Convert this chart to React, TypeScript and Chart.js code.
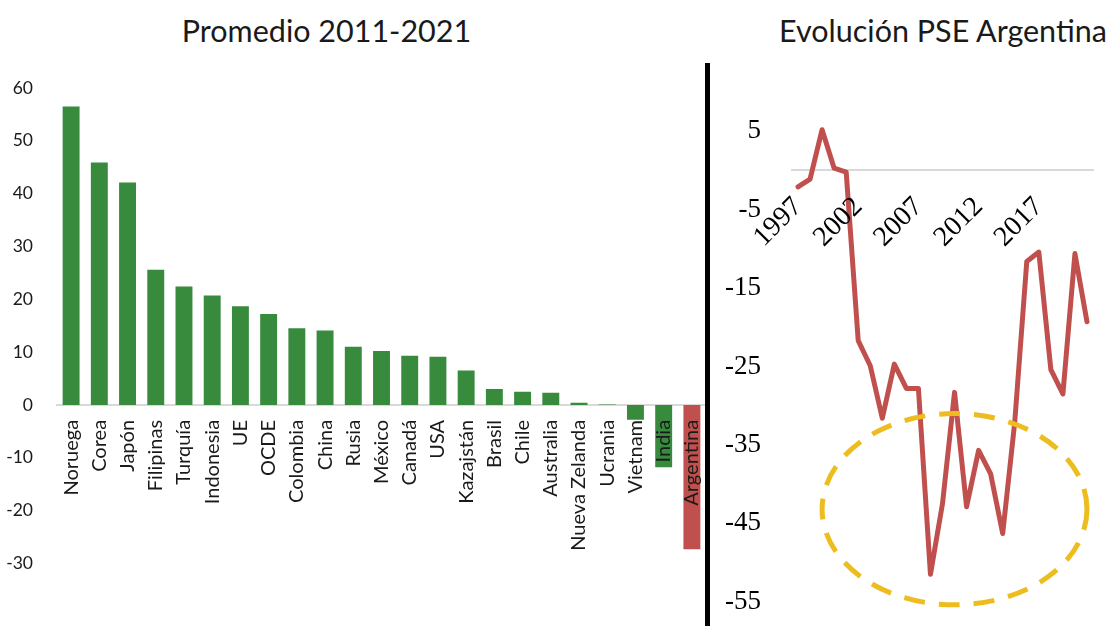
import { useEffect, useRef } from 'react';
import { Chart, registerables } from 'chart.js';

Chart.register(...registerables);

// Left panel: 2011-2021 average PSE by country
const countries = [
  'Noruega', 'Corea', 'Japón', 'Filipinas', 'Turquía', 'Indonesia', 'UE', 'OCDE',
  'Colombia', 'China', 'Rusia', 'México', 'Canadá', 'USA', 'Kazajstán', 'Brasil',
  'Chile', 'Australia', 'Nueva Zelanda', 'Ucrania', 'Vietnam', 'India', 'Argentina',
];
const averageValues = [
  56.5, 45.9, 42.1, 25.6, 22.4, 20.7, 18.7, 17.2,
  14.5, 14.1, 11.0, 10.2, 9.3, 9.1, 6.5, 3.0,
  2.5, 2.3, 0.4, 0.1, -2.8, -11.8, -27.3,
];
const highlightedCountry = 'Argentina';

// Right panel: yearly PSE for Argentina
const years = [
  '1997', '1998', '1999', '2000', '2001', '2002', '2003', '2004', '2005', '2006',
  '2007', '2008', '2009', '2010', '2011', '2012', '2013', '2014', '2015', '2016',
  '2017', '2018', '2019', '2020', '2021',
];
const pseValues = [
  -2.1, -1.1, 5.2, 0.3, -0.2, -21.7, -24.9, -31.6, -24.7, -27.8,
  -27.8, -51.5, -42.5, -28.3, -42.9, -35.7, -38.7, -46.3, -32.1, -11.6,
  -10.4, -25.4, -28.5, -10.6, -19.3,
];
const yearLabelStep = 5;
const pseTicks = [-55, -45, -35, -25, -15, -5, 5];

// Dashed ellipse marking the 2008-2015 trough (in data units)
const troughMark = { fromYear: '1999', toYear: '2021', top: -31, bottom: -55.4 };

const GREEN = '#388B3D';
const RED = '#C0504D';
const GOLD = '#EDBD1F';
const AXIS_GRAY = '#D9D9D9';
const TEXT = '#1a1a1a';
const SANS = 'Lato, "Open Sans", sans-serif';
const SERIF = '"Liberation Serif", "DejaVu Serif", serif';

// The category axes sit on the zero line, so they must not reserve layout room
const flatAxis = (s: any) => {
  s.paddingLeft = 0;
  s.paddingRight = 0;
  s.paddingTop = 0;
  s.paddingBottom = 0;
  s.height = 0;
};

const ellipsePlugin = {
  id: 'troughEllipse',
  afterDatasetsDraw(chart: any) {
    const xs = chart.scales.x;
    const ys = chart.scales.y;
    const x1 = xs.getPixelForValue(years.indexOf(troughMark.fromYear));
    const x2 = xs.getPixelForValue(years.indexOf(troughMark.toYear));
    const y1 = ys.getPixelForValue(troughMark.top);
    const y2 = ys.getPixelForValue(troughMark.bottom);
    const ctx = chart.ctx;
    ctx.save();
    ctx.beginPath();
    ctx.ellipse((x1 + x2) / 2, (y1 + y2) / 2, (x2 - x1) / 2, (y2 - y1) / 2, 0, 0, Math.PI * 2);
    ctx.setLineDash([21, 14]);
    ctx.lineWidth = 5;
    ctx.strokeStyle = GOLD;
    ctx.stroke();
    ctx.restore();
  },
};

function AverageChart() {
  const ref = useRef<HTMLCanvasElement>(null);
  useEffect(() => {
    if (!ref.current) return;
    const chart = new Chart(ref.current, {
      type: 'bar',
      data: {
        labels: countries,
        datasets: [
          {
            data: averageValues,
            backgroundColor: countries.map((c) => (c === highlightedCountry ? RED : GREEN)),
            barPercentage: 0.6,
            categoryPercentage: 1,
          },
        ],
      },
      options: {
        animation: false,
        responsive: false,
        layout: { padding: { top: 88, bottom: 62.6, left: 0, right: 0 } },
        plugins: { legend: { display: false }, tooltip: { enabled: false } },
        scales: {
          x: {
            type: 'category',
            position: { y: 0 } as any,
            grid: { display: false, drawTicks: false },
            border: { display: true, color: AXIS_GRAY, width: 2 },
            ticks: {
              autoSkip: false,
              minRotation: 90,
              maxRotation: 90,
              padding: 15,
              z: 1,
              color: TEXT,
              font: { family: SANS, size: 20 },
            },
            afterFit: flatAxis,
          },
          y: {
            min: -30,
            max: 60,
            grid: { display: false, drawTicks: false },
            border: { display: false },
            ticks: { stepSize: 10, padding: 24, color: TEXT, font: { family: SANS, size: 17.5 } },
            afterFit: (s: any) => {
              s.width = 57;
              s.paddingTop = 0;
              s.paddingBottom = 0;
            },
          },
        },
      },
    } as any);
    return () => chart.destroy();
  }, []);
  return <canvas ref={ref} width={706} height={626} style={{ position: 'absolute', left: 0, top: 0 }} />;
}

function ArgentinaChart() {
  const ref = useRef<HTMLCanvasElement>(null);
  useEffect(() => {
    if (!ref.current) return;
    const chart = new Chart(ref.current, {
      type: 'line',
      data: {
        labels: years,
        datasets: [
          {
            data: pseValues,
            borderColor: RED,
            borderWidth: 5,
            pointRadius: 0,
            tension: 0,
            fill: false,
            borderCapStyle: 'round',
            borderJoinStyle: 'round',
          },
        ],
      },
      options: {
        animation: false,
        responsive: false,
        layout: { padding: { top: 76.4, bottom: 24.3, left: 0, right: 27 } },
        plugins: { legend: { display: false }, tooltip: { enabled: false } },
        scales: {
          x: {
            type: 'category',
            offset: true,
            position: { y: 0 } as any,
            grid: { display: false, drawTicks: false },
            border: { display: true, color: AXIS_GRAY, width: 2 },
            ticks: {
              autoSkip: false,
              minRotation: 45,
              maxRotation: 45,
              padding: 20,
              z: 1,
              color: '#000',
              font: { family: SERIF, size: 28 },
              callback: (_v: any, i: number) => (i % yearLabelStep === 0 ? years[i] : ''),
            },
            afterFit: flatAxis,
          },
          y: {
            min: -55,
            max: 12,
            grid: { display: false, drawTicks: false },
            border: { display: false },
            afterBuildTicks: (s: any) => {
              s.ticks = pseTicks.map((value) => ({ value }));
            },
            ticks: { padding: 31, color: '#000', font: { family: SERIF, size: 27 } },
            afterFit: (s: any) => {
              s.width = 86;
              s.paddingTop = 0;
              s.paddingBottom = 0;
            },
          },
        },
      },
      plugins: [ellipsePlugin],
    } as any);
    return () => chart.destroy();
  }, []);
  return <canvas ref={ref} width={414} height={626} style={{ position: 'absolute', left: 706, top: 0 }} />;
}

const titleStyle = (center: number): any => ({
  position: 'absolute',
  left: center - 300,
  width: 600,
  top: 12,
  lineHeight: '36px',
  fontSize: 30.5,
  fontFamily: SANS,
  color: TEXT,
  textAlign: 'center',
  whiteSpace: 'nowrap',
});

export default function App() {
  return (
    <div style={{ position: 'relative', width: 1120, height: 626, overflow: 'hidden', background: '#fff' }}>
      <style>{'body{margin:0}'}</style>
      <div style={titleStyle(326.5)}>Promedio 2011-2021</div>
      <div style={titleStyle(943)}>Evolución PSE Argentina</div>
      <AverageChart />
      <ArgentinaChart />
      <div style={{ position: 'absolute', left: 705, top: 63, width: 5, height: 563, background: '#000' }} />
    </div>
  );
}
